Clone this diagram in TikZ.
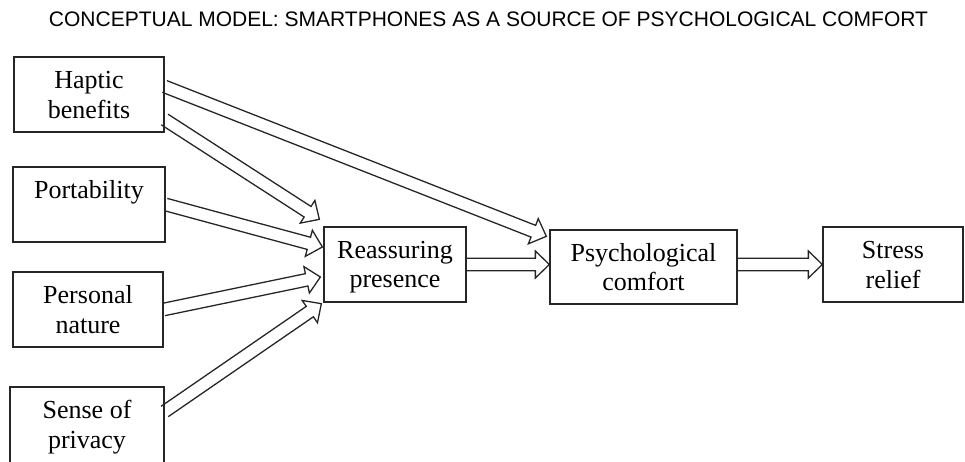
\documentclass[tikz,border=0pt]{standalone}
\usepackage{fontspec}
\setmainfont{Liberation Serif}
\newfontfamily\titlefont{Liberation Sans}
\usetikzlibrary{calc}
\newcommand{\sst}{\vrule height 23pt depth 5pt width 0pt}
\newcommand{\fahl}{14pt}
\newcommand{\fatarrow}[2]{%
  \coordinate (fa-s) at #1;
  \coordinate (fa-e) at #2;
  \coordinate (fa-h) at ($(fa-e)!\fahl!(fa-s)$);
  \draw[fat] ($(fa-s)!6.3pt!90:(fa-e)$) -- ($(fa-h)!6.3pt!-90:(fa-s)$)
    -- ($(fa-h)!13.5pt!-90:(fa-s)$) -- (fa-e) -- ($(fa-h)!13.5pt!90:(fa-s)$)
    -- ($(fa-h)!6.3pt!90:(fa-s)$) -- ($(fa-s)!6.3pt!-90:(fa-e)$);
}
\tikzset{
  box/.style={draw=black!85, line width=1.3pt, align=center, inner sep=0pt,
    font=\fontsize{26}{29.5}\selectfont},
  fat/.style={draw=black!85, line width=1.3pt, line join=miter},
  titlestyle/.style={font=\titlefont\fontsize{21}{25}\selectfont, inner sep=0pt}
}
\begin{document}
\begin{tikzpicture}[x=1pt,y=-1pt]
\useasboundingbox (0,0) rectangle (965,462);
\node[titlestyle] (title) at (488.5,18.8) {CONCEPTUAL MODEL: SMARTPHONES AS A SOURCE OF PSYCHOLOGICAL COMFORT};

\node[box, minimum width=150pt, minimum height=75pt] (hap) at (89,94.5) {\sst Haptic\\\sst benefits};
\node[box, minimum width=152pt, minimum height=75pt] (por) at (89,204.5) {\sst Portability\\\sst\mbox{}};
\node[box, minimum width=150pt, minimum height=75pt] (per) at (88,309.5) {\sst Personal\\\sst nature};
\node[box, minimum width=154pt, minimum height=76pt] (sen) at (87,425) {\sst Sense of\\\sst privacy};
\node[box, minimum width=142pt, minimum height=75pt] (rea) at (395,264.5) {\sst Reassuring\\\sst presence};
\node[box, minimum width=187pt, minimum height=74pt] (psy) at (643.5,267) {\sst Psychological\\\sst comfort};
\node[box, minimum width=140pt, minimum height=75pt] (str) at (893,264.5) {\sst Stress\\\sst relief};

\fatarrow{([yshift=8pt]hap.east)}{([xshift=-3pt,yshift=-7pt]psy.north west)}
\fatarrow{([yshift=-25pt]hap.east)}{([xshift=-4pt,yshift=7pt]rea.north west)}
\fatarrow{(por.east)}{([xshift=-1pt,yshift=17.5pt]rea.west)}
\fatarrow{(per.east)}{([xshift=-3pt,yshift=-12.5pt]rea.west)}
\fatarrow{([yshift=13.5pt]sen.east)}{([xshift=-2pt,yshift=-1pt]rea.south west)}
\fatarrow{(rea.east)}{(rea.east -| psy.west)}
\fatarrow{(psy.east |- str.west)}{(str.west)}
\end{tikzpicture}
\end{document}
